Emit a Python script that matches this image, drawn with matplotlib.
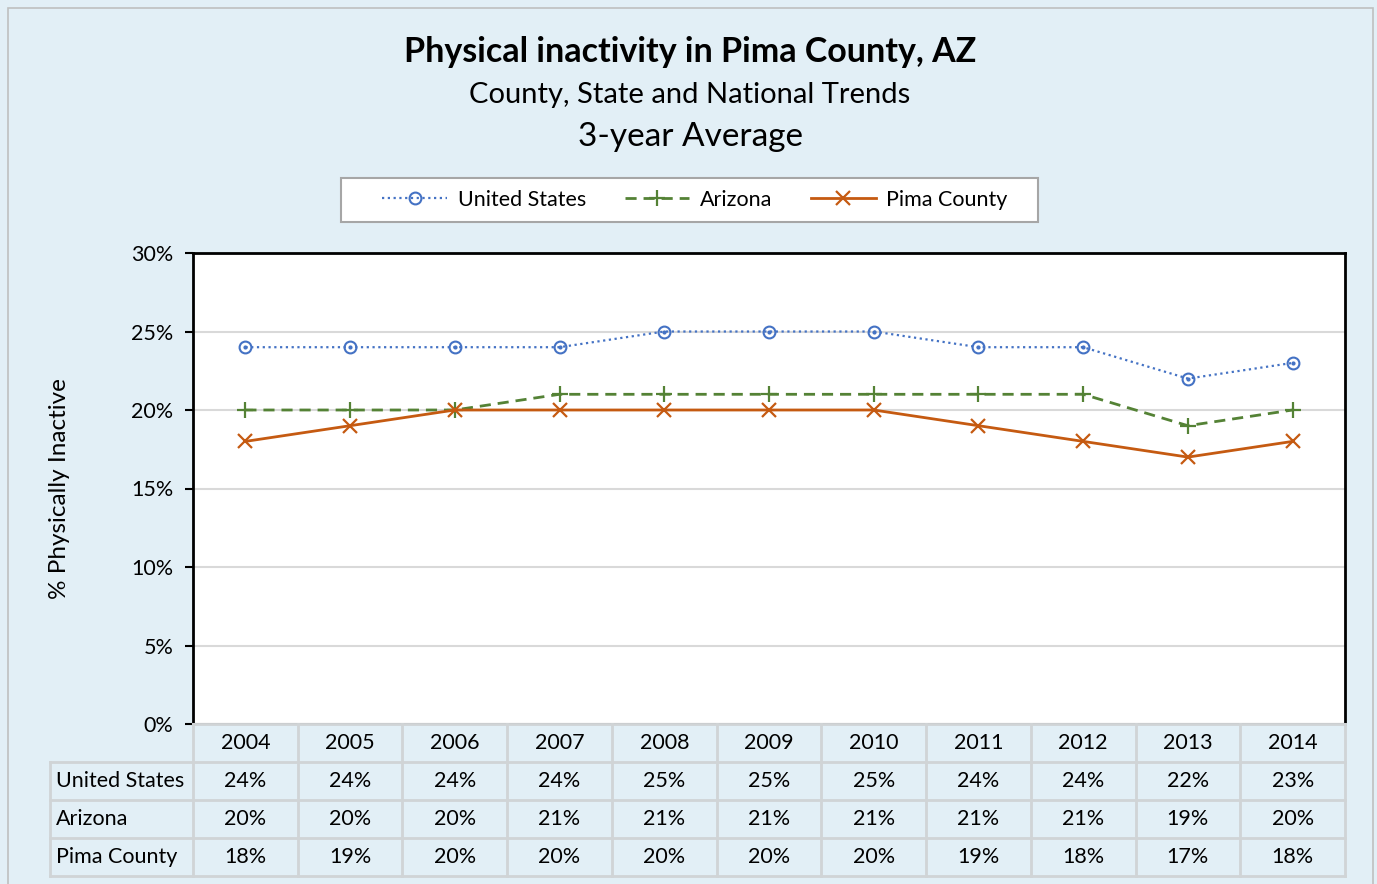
import matplotlib.pyplot as plt
from matplotlib.patches import Rectangle

plt.rcParams['font.family'] = ['Lato', 'DejaVu Sans']

years = ['2004', '2005', '2006', '2007', '2008', '2009', '2010', '2011', '2012', '2013', '2014']
united_states = [24, 24, 24, 24, 25, 25, 25, 24, 24, 22, 23]
arizona = [20, 20, 20, 21, 21, 21, 21, 21, 21, 19, 20]
pima_county = [18, 19, 20, 20, 20, 20, 20, 19, 18, 17, 18]
series_names = ['United States', 'Arizona', 'Pima County']

bg = '#E2EFF6'
W, H = 1377, 884
fig = plt.figure(figsize=(W / 100, H / 100), dpi=100, facecolor=bg)

# outer chart border
fig.patches.append(Rectangle((8 / W, -0.01), (1373 - 8) / W, (H - 8) / H + 0.01,
                             transform=fig.transFigure, fill=False,
                             edgecolor='#BFBFBF', linewidth=1.2))

def px(x0, y0, x1, y1):
    return [x0 / W, 1 - y1 / H, (x1 - x0) / W, (y1 - y0) / H]

ax = fig.add_axes(px(193, 253, 1345, 724))
ax.set_facecolor('white')
x = list(range(len(years)))

ax.plot(x, united_states, color='#4472C4', linestyle=(0, (1, 1.6)), linewidth=1.6,
        marker='o', markersize=8.5, markerfacecolor='none', markeredgewidth=1.5,
        label='United States', zorder=3)
ax.plot(x, united_states, linestyle='none', marker='o', markersize=2,
        color='#4472C4', zorder=4)
ax.plot(x, arizona, color='#548235', linestyle=(0, (4, 2.5)), linewidth=2,
        marker='+', markersize=12, markeredgewidth=1.6, label='Arizona', zorder=3)
ax.plot(x, pima_county, color='#C55A11', linestyle='-', linewidth=2,
        marker='x', markersize=10.5, markeredgewidth=1.6, label='Pima County', zorder=3)

ax.set_xlim(-0.5, len(years) - 0.5)
ax.set_ylim(0, 30)
ax.set_yticks(range(0, 31, 5))
ax.set_yticklabels([f'{v}%' for v in range(0, 31, 5)], fontsize=15.5)
ax.set_xticks([])
ax.grid(axis='y', color='#D9D9D9', linewidth=1.5)
ax.set_axisbelow(True)
for side in ['left', 'top', 'right']:
    ax.spines[side].set_color('black')
    ax.spines[side].set_linewidth(2)
ax.spines['bottom'].set_color('#A6A6A6')
ax.spines['bottom'].set_linewidth(1.5)
ax.tick_params(axis='y', length=6, width=1.5, pad=8)
ax.set_ylabel('% Physically Inactive', fontsize=17.5, labelpad=44)

# legend box drawn separately so it can be wider than its entries
fig.patches.append(Rectangle((341 / W, 1 - 222 / H), (1038 - 341) / W, 44 / H,
                             transform=fig.transFigure, facecolor='white',
                             edgecolor='#A6A6A6', linewidth=1.5))
handles, labels = ax.get_legend_handles_labels()
leg = fig.legend(handles, labels, loc='center', bbox_to_anchor=(695 / W, 1 - 200 / H),
                 ncol=3, fontsize=15.5, frameon=False,
                 handlelength=3.0, handletextpad=0.5, columnspacing=1.8,
                 borderpad=0.5, borderaxespad=0)

fig.text(690 / W, 1 - 52 / H, 'Physical inactivity in Pima County, AZ',
         ha='center', va='center', fontsize=24.5, fontweight='bold')
fig.text(690 / W, 1 - 95 / H, 'County, State and National Trends',
         ha='center', va='center', fontsize=21)
fig.text(690 / W, 1 - 137 / H, '3-year Average',
         ha='center', va='center', fontsize=24)

# data table under the plot
lab_w = (193 - 50) / ((1345 - 193) / len(years))
tab = fig.add_axes(px(50, 724, 1345, 876))
tab.set_xlim(-0.5 - lab_w, len(years) - 0.5)
tab.set_ylim(4, 0)
tab.axis('off')
tab.patch.set_alpha(0)
grid_c = '#D0D4D6'
rows = [united_states, arizona, pima_county]
for i, yr in enumerate(years):
    tab.text(i, 0.5, yr, ha='center', va='center', fontsize=15.5)
    for r, vals in enumerate(rows):
        tab.text(i, r + 1.5, f'{vals[i]}%', ha='center', va='center', fontsize=15.5)
for r, name in enumerate(series_names):
    tab.text(-0.5 - lab_w + 0.06, r + 1.5, name, ha='left', va='center', fontsize=15.5)
# horizontal lines
tab.plot([-0.5, len(years) - 0.5], [0, 0], color=grid_c, lw=2, clip_on=False)
for yy in [1, 2, 3, 4]:
    tab.plot([-0.5 - lab_w, len(years) - 0.5], [yy, yy], color=grid_c, lw=2, clip_on=False)
# vertical lines
for xx in range(len(years) + 1):
    tab.plot([xx - 0.5, xx - 0.5], [0, 4], color=grid_c, lw=2, clip_on=False)
tab.plot([-0.5 - lab_w] * 2, [1, 4], color=grid_c, lw=2, clip_on=False)

fig.savefig('out.png', dpi=100, facecolor=bg)
